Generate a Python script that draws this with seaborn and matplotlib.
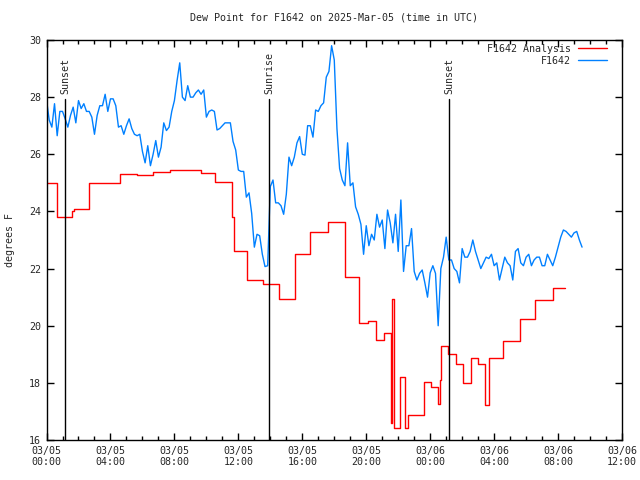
import numpy as np
import pandas as pd
import seaborn as sns
import matplotlib.pyplot as plt
import matplotlib.dates as mdates

# Observed dew point, one reading every 10 minutes from 2025-03-05 00:00 UTC
obs_values = [
    27.9, 27.2, 26.95, 27.77, 26.65, 27.5, 27.5, 27.24, 26.95, 27.36,
    27.65, 27.1, 27.88, 27.6, 27.77, 27.5, 27.5, 27.3, 26.7, 27.36,
    27.7, 27.7, 28.1, 27.5, 27.94, 27.94, 27.7, 26.95, 27.0, 26.7,
    27.0, 27.24, 26.9, 26.7, 26.65, 26.7, 26.1, 25.7, 26.3, 25.6,
    26.0, 26.48, 25.9, 26.25, 27.1, 26.83, 26.95, 27.5, 27.88, 28.58,
    29.2, 28.0, 27.88, 28.4,
    28.0, 28.0, 28.15, 28.25, 28.1, 28.25, 27.3, 27.5, 27.55, 27.5,
    26.85, 26.9, 27.0, 27.1, 27.1, 27.1, 26.45, 26.15, 25.45, 25.4,
    25.4, 24.5, 24.65, 23.93, 22.75, 23.2, 23.15, 22.5, 22.07, 22.1,
    24.87, 25.1, 24.3, 24.3, 24.2, 23.9, 24.6, 25.9, 25.6, 25.9,
    26.4, 26.62, 26.0, 25.97, 27.0, 27.0, 26.6, 27.55, 27.5, 27.7,
    27.8, 28.7,
    28.9, 29.8, 29.3, 26.9, 25.5, 25.1, 24.9, 26.4, 24.9, 25.0,
    24.16, 23.9, 23.55, 22.5, 23.5, 22.8, 23.2, 23.0, 23.9, 23.45,
    23.7, 22.7, 24.05, 23.6, 22.9, 23.9, 22.6, 24.4, 21.9, 22.8,
    22.8, 23.4, 21.9, 21.6, 21.83, 21.95, 21.5, 21.0, 21.85, 22.1,
    21.83, 20.0, 22.0, 22.4, 23.1, 22.3,
    22.3, 22.0, 21.9, 21.5, 22.7, 22.4, 22.4, 22.6, 23.0, 22.6,
    22.3, 22.0, 22.2, 22.4, 22.35, 22.5, 22.1, 22.2, 21.6, 22.0,
    22.4, 22.2, 22.1, 21.6, 22.6, 22.7, 22.2, 22.1, 22.4, 22.5,
    22.1, 22.3, 22.4, 22.4, 22.1, 22.1, 22.5, 22.3, 22.1, 22.4,
    22.75, 23.1, 23.35, 23.3, 23.2, 23.1, 23.25, 23.3, 23.0, 22.75,
]

# Analysis steps: hour after start, value
ana_hours = [
    0.0, 0.635, 1.61, 1.74, 2.65, 4.59, 5.64, 6.68, 7.71, 9.66, 10.57, 11.61,
    11.71, 12.55, 13.55, 14.55, 15.55, 16.51, 17.61, 18.64, 19.56, 20.12,
    20.63, 21.1, 21.57, 21.63, 21.72, 22.09, 22.45, 22.59, 23.59, 24.08,
    24.5, 24.6, 24.7, 25.1, 25.64, 26.06, 26.57, 26.99, 27.45, 27.66, 28.53,
    29.59, 30.54, 31.68, 32.45,
]
ana_values = [
    25.0, 23.8, 24.0, 24.1, 25.0, 25.31, 25.26, 25.37, 25.44, 25.33, 25.02,
    23.8, 22.6, 21.6, 21.46, 20.93, 22.5, 23.27, 23.62, 21.7, 20.08, 20.16,
    19.5, 19.73, 16.58, 20.93, 16.41, 18.22, 16.41, 16.87, 18.04, 17.85,
    17.26, 18.1, 19.29, 19.0, 18.66, 17.98, 18.86, 18.66, 17.22, 18.86,
    19.46, 20.23, 20.9, 21.31, 21.31,
]

sun_labels = ['Sunset', 'Sunrise', 'Sunset']
sun_hours = [1.18, 13.93, 25.17]

start = pd.Timestamp('2025-03-05 00:00')
obs = pd.DataFrame({
    'time': start + pd.to_timedelta(np.arange(len(obs_values)) * 10, unit='min'),
    'dewpt': obs_values,
})
ana = pd.DataFrame({
    'time': start + pd.to_timedelta(ana_hours, unit='h'),
    'dewpt': ana_values,
})

sns.set_style('ticks')
plt.rcParams['font.family'] = ['DejaVu Sans Mono']
fs = 7.2

fig = plt.figure(figsize=(6.4, 4.8), dpi=100)
ax = fig.add_axes([0.0727, 0.0833, 0.8992, 0.8334])

sns.lineplot(data=ana, x='time', y='dewpt', ax=ax, color='#ff0000', lw=1,
             drawstyle='steps-post', label='F1642 Analysis')
sns.lineplot(data=obs, x='time', y='dewpt', ax=ax, color='#0080ff', lw=1,
             label='F1642')

for name, h in zip(sun_labels, sun_hours):
    t = start + pd.Timedelta(hours=h)
    ax.plot([t, t], [16, 27.93], color='black', lw=1)
    ax.text(t, 28.12, name, rotation=90, ha='center', va='bottom', fontsize=fs)

ax.set_xlim(start, start + pd.Timedelta(hours=36))
ax.set_ylim(16, 30)
ax.set_yticks(range(16, 31, 2))
ax.xaxis.set_major_locator(mdates.HourLocator(byhour=[0, 4, 8, 12, 16, 20]))
ax.xaxis.set_minor_locator(mdates.HourLocator())
ax.xaxis.set_major_formatter(mdates.DateFormatter('%m/%d\n%H:%M'))
ax.tick_params(which='both', direction='in', top=True, right=True,
               labelsize=fs, color='black', pad=4)
ax.tick_params(which='major', length=5, width=1)
ax.tick_params(which='minor', length=3, width=1)
for s in ax.spines.values():
    s.set_color('black')
    s.set_linewidth(1)

ax.set_xlabel('')
ax.set_ylabel('degrees F', fontsize=fs, labelpad=10)
ax.set_title('Dew Point for F1642 on 2025-Mar-05 (time in UTC)', fontsize=fs, pad=14)

ax.legend(loc='upper right', bbox_to_anchor=(0.98, 1.0), frameon=False,
          markerfirst=False, fontsize=fs, handlelength=2.9, handletextpad=0.7,
          borderaxespad=0.0, labelspacing=0.2)

fig.savefig('out.png', dpi=100)
